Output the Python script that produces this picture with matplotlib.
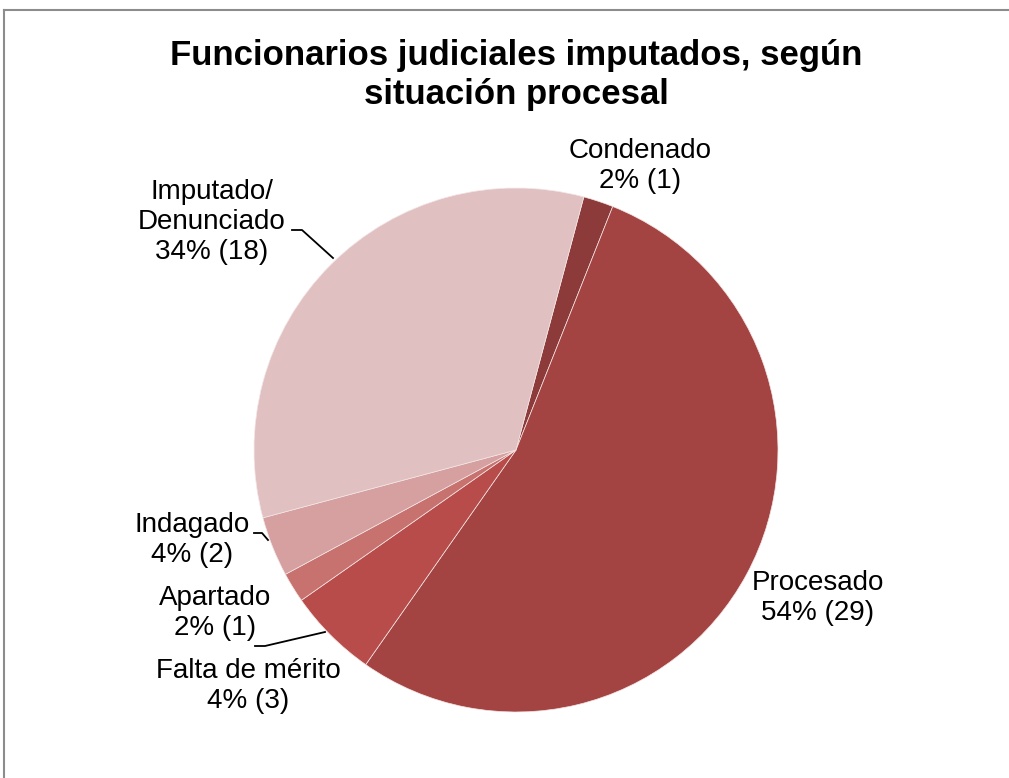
import matplotlib.pyplot as plt
from matplotlib.lines import Line2D

plt.rcParams["font.family"] = ["Liberation Sans", "DejaVu Sans"]

# Slice data, clockwise from the top
labels = ["Condenado", "Procesado", "Falta de mérito", "Apartado", "Indagado", "Imputado/\nDenunciado"]
counts = [1, 29, 3, 1, 2, 18]
pct_text = ["2%", "54%", "4%", "2%", "4%", "34%"]
colors = ["#8c3a3a", "#a44442", "#b84c4a", "#c87270", "#d5a09f", "#e1c0c1"]

W, H = 1009, 778
fig = plt.figure(figsize=(W / 100, H / 100), dpi=100)
ax = fig.add_axes([0, 0, 1, 1])

# pie in pixel-like coordinates (y goes up)
cx, cy, r = 516, H - 450, 262
ax.pie(counts, colors=colors, startangle=75, counterclock=False,
       center=(cx, cy), radius=r, frame=True,
       wedgeprops=dict(edgecolor="#f3e6e6", linewidth=0.5))
ax.set_xlim(0, W)
ax.set_ylim(0, H)
ax.set_aspect("equal")
ax.axis("off")

# label positions (x, y from top)
label_pos = [(640, 166), (818, 598), (248, 686), (215, 613), (192, 540), (212, 222)]
for lab, pct, n, (x, y) in zip(labels, pct_text, counts, label_pos):
    ax.text(x, H - y, f"{lab}\n{pct} ({n})", ha="center", va="center",
            fontsize=20, linespacing=1.22, color="black")

# leader lines
leaders = [
    [(292, 230), (302, 230), (333, 258)],
    [(254, 533), (262, 533), (268, 540)],
    [(255, 646), (265, 646), (325, 632)],
]
for pts in leaders:
    xs = [p[0] for p in pts]
    ys = [H - p[1] for p in pts]
    ax.plot(xs, ys, color="black", lw=1.3)

fig.text(516 / W, 1 - 75 / H, "Funcionarios judiciales imputados, según\nsituación procesal",
         ha="center", va="center", fontsize=25, fontweight="bold", linespacing=1.2)

# chart frame (only left and top edges are visible)
fig.add_artist(Line2D([4 / W, 4 / W], [0, 1 - 10 / H], transform=fig.transFigure, color="#8c8c8c", lw=1.5))
fig.add_artist(Line2D([4 / W, 1], [1 - 10 / H, 1 - 10 / H], transform=fig.transFigure, color="#8c8c8c", lw=1.5))

fig.savefig("out.png", dpi=100)
